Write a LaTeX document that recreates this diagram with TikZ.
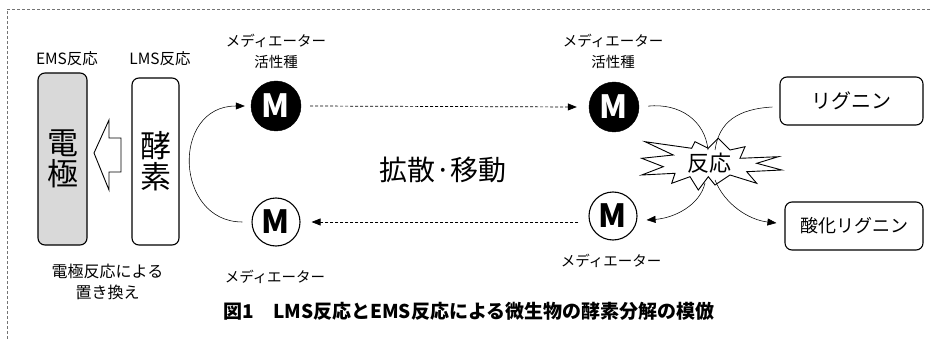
\documentclass[tikz,border=0pt]{standalone}
\usepackage{fontspec}
\setmainfont{Noto Sans CJK JP}
\usetikzlibrary{arrows.meta,calc}
\newcommand\fsz[2]{\fontsize{#1}{#2}\selectfont}
\begin{document}
\begin{tikzpicture}[x=1pt,y=-1pt,
  frame/.style={draw=black!55, line width=0.7pt, dash pattern=on 3pt off 2pt},
  rbox/.style={draw, line width=1.1pt, rounded corners=7pt, inner sep=0pt},
  mblack/.style={circle, fill=black, draw=black, minimum size=50pt, inner sep=0pt, text=white, font=\fsz{32}{32}\bfseries},
  mwhite/.style={circle, fill=white, draw=black, line width=1.1pt, minimum size=48pt, inner sep=0pt, font=\fsz{32}{32}\bfseries},
  lbl/.style={inner sep=0pt, font=\fsz{14.5}{21}, align=center},
  conn/.style={line width=0.55pt, -{Triangle[length=9pt,width=7pt]}},
  plainconn/.style={line width=0.55pt},
  dconn/.style={line width=0.7pt, dash pattern=on 3pt off 2pt, -{Triangle[length=9pt,width=7pt]}}
]
\useasboundingbox (0,0) rectangle (933,339);
% frame
\coordinate (fTR) at (930,9);
\coordinate (fTL) at (7,9);
\coordinate (fBL) at (7,339);
\draw[frame] (fTR) -- (fTL) -- (fBL);

% electrode and enzyme
\node[rbox, fill=black!15, minimum width=49pt, minimum height=172pt, font=\fsz{31}{31}, align=center] (elec) at (62.5,159) {電\\極};
\node[rbox, fill=white, minimum width=47pt, minimum height=167pt, font=\fsz{31}{31}, align=center] (enz) at (155.5,161.5) {酵\\素};
\node[lbl, font=\fsz{15.5}{20}] (ems) at (67,59) {EMS反応};
\node[lbl, font=\fsz{15.5}{20}] (lms) at (160,59) {LMS反応};
\node[lbl, font=\fsz{16}{21}] (repl) at (107.5,282) {電極反応による\\置き換え};

% hollow arrow
\draw[line width=0.9pt, fill=white] (94,153) -- (109,120) -- (109,138) -- (121,138) -- (121,172) -- (109,172) -- (109,190) -- cycle;

% mediators
\node[mblack] (bm1) at (276,106) {M};
\node[mblack] (bm2) at (614,107) {M};
\node[mwhite] (wm1) at (276,222) {M};
\node[mwhite] (wm2) at (613,216) {M};
\node[lbl] (lb1) at (276,51) {メディエーター\\活性種};
\node[lbl] (lb2) at (613,51) {メディエーター\\活性種};
\node[lbl] (lw1) at (275,277) {メディエーター};
\node[lbl] (lw2) at (611,261) {メディエーター};

% diffusion label
\node[inner sep=0pt, font=\fsz{28}{30}] (diff) at (443,170) {拡散·移動};

% lignin boxes
\node[rbox, minimum width=143pt, minimum height=48pt, font=\fsz{20}{20}] (lig) at (851.5,101) {リグニン};
\node[rbox, minimum width=138pt, minimum height=48pt, font=\fsz{18}{18}] (olig) at (854,226) {酸化リグニン};

% dashed arrows
\draw[dconn] ([xshift=9pt]bm1.east) -- ([xshift=-12pt]bm2.west);
\draw[dconn] ($(wm2.west |- wm1.east)+(-10,0)$) -- ([xshift=11pt]wm1.east);

% regeneration arc
\draw[conn, shorten <=9pt, shorten >=6pt] (wm1.west) .. controls +(-77,0) and +(-80,0) .. (bm1.west);

% starburst
\draw[line width=0.9pt, fill=white, line join=miter] (645,141.7) -- (691.7,148.3) -- (695,141.7) -- (708.3,148.3) -- (718.3,138.3) -- (730,150) -- (745,146.7) -- (740,158.3) -- (778.3,156.7) -- (756.7,163.3) -- (781.7,170) -- (746.7,171.7) -- (756.7,183.3) -- (730,175) -- (715,185) -- (708.3,176.7) -- (698.3,190) -- (690,176.7) -- (671.7,183.3) -- (675,173.3) -- (641.7,175) -- (663.3,166.7) -- (641.7,158.3) -- (673.3,155) -- cycle;
\node[inner sep=0pt, font=\fsz{22}{22}] (react) at (709,163) {反応};

% reaction connectors
\coordinate (sTL) at (708,150);
\coordinate (sTR) at (715,150);
\coordinate (sBL) at (705,183);
\coordinate (sBR) at (715,180);
\draw[plainconn, shorten <=9pt] (bm2.east) .. controls +(40,-4) and +(-3,-30) .. (sTL);
\draw[plainconn] ($(lig.west)+(-7,6)$) .. controls +(-35,2) and +(4,-28) .. (sTR);
\draw[conn] (sBL) .. controls +(-5,22) and +(28,-2) .. ($(wm2.east)+(9,4)$);
\draw[conn] (sBR) .. controls +(10,25) and +(-27,-3) .. ($(olig.west)+(-8,-3)$);

% caption
\node[inner sep=0pt, font=\fsz{19}{19}\bfseries] (cap) at (469,311) {図1　LMS反応とEMS反応による微生物の酵素分解の模倣};
\end{tikzpicture}
\end{document}
